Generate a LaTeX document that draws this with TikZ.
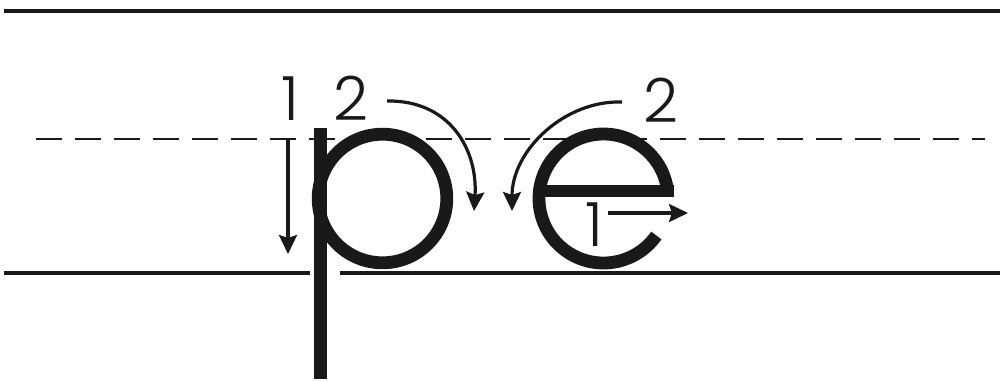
\documentclass[tikz,border=0pt]{standalone}
\usepackage{fontspec}
\newfontfamily\digitfont{Poppins Light}
\usetikzlibrary{arrows.meta}
\tikzset{
  rule/.style={line width=4pt, black!90},
  guide/.style={line width=2.3pt, black!90, dash pattern=on 26pt off 13pt},
  letterstroke/.style={line width=12.8pt, black!90},
  hint/.style={line width=3.2pt, black!90, -{Stealth[length=19pt,width=18pt,inset=3pt]}},
  num/.style={inner sep=0pt, font=\digitfont\fontsize{61}{61}\selectfont, text=black!90}
}
\begin{document}
\begin{tikzpicture}[x=1pt,y=-1pt]
\useasboundingbox (0,0) rectangle (1000,381);
% ruling lines
\coordinate (tl) at (4,10.5);
\coordinate (tr) at (1000,10.5);
\draw[rule] (tl) -- (tr);
\coordinate (dl) at (36,139);
\coordinate (dr) at (985,139);
\draw[guide] (dl) -- (dr);
\coordinate (bl) at (4,273);
\coordinate (bm1) at (310,273);
\coordinate (bm2) at (340,273);
\coordinate (br) at (1000,273);
\draw[rule] (bl) -- (bm1);
\draw[rule] (bm2) -- (br);
% letter p
\coordinate (pstemtop) at (320.5,128);
\coordinate (pstembot) at (320.5,379);
\draw[letterstroke] (pstemtop) -- (pstembot);
\coordinate (pbowl) at (382.5,198.5);
\draw[letterstroke] (pbowl) circle[radius=64.3];
% letter e
\coordinate (ebarl) at (541,191);
\coordinate (ebarr) at (674,191);
\draw[letterstroke] (ebarl) -- (ebarr);
\coordinate (ec) at (603.5,198.5);
\draw[letterstroke] ([shift={(-7:64.5)}]ec) arc[start angle=-7, end angle=-325, radius=64.5];
% labels
\node[num] (p1) at (290,98.5) {1};
\node[num] (p2) at (351,98.5) {2};
\node[num] (e2) at (661,100) {2};
\node[num] (e1) at (594,225) {1};
% stroke hints
\coordinate (a1s) at (288,138);
\coordinate (a1e) at (288,254);
\draw[hint] (a1s) -- (a1e);
\coordinate (a2s) at (387,101);
\coordinate (a2e) at (474,211);
\draw[hint] (a2s) .. controls (450,100) and (478,150) .. (a2e);
\coordinate (b2s) at (622,102);
\coordinate (b2e) at (512,211);
\draw[hint] (b2s) .. controls (565,100) and (512,150) .. (b2e);
\coordinate (b1s) at (608,213);
\coordinate (b1e) at (688,213);
\draw[hint] (b1s) -- (b1e);
\end{tikzpicture}
\end{document}
